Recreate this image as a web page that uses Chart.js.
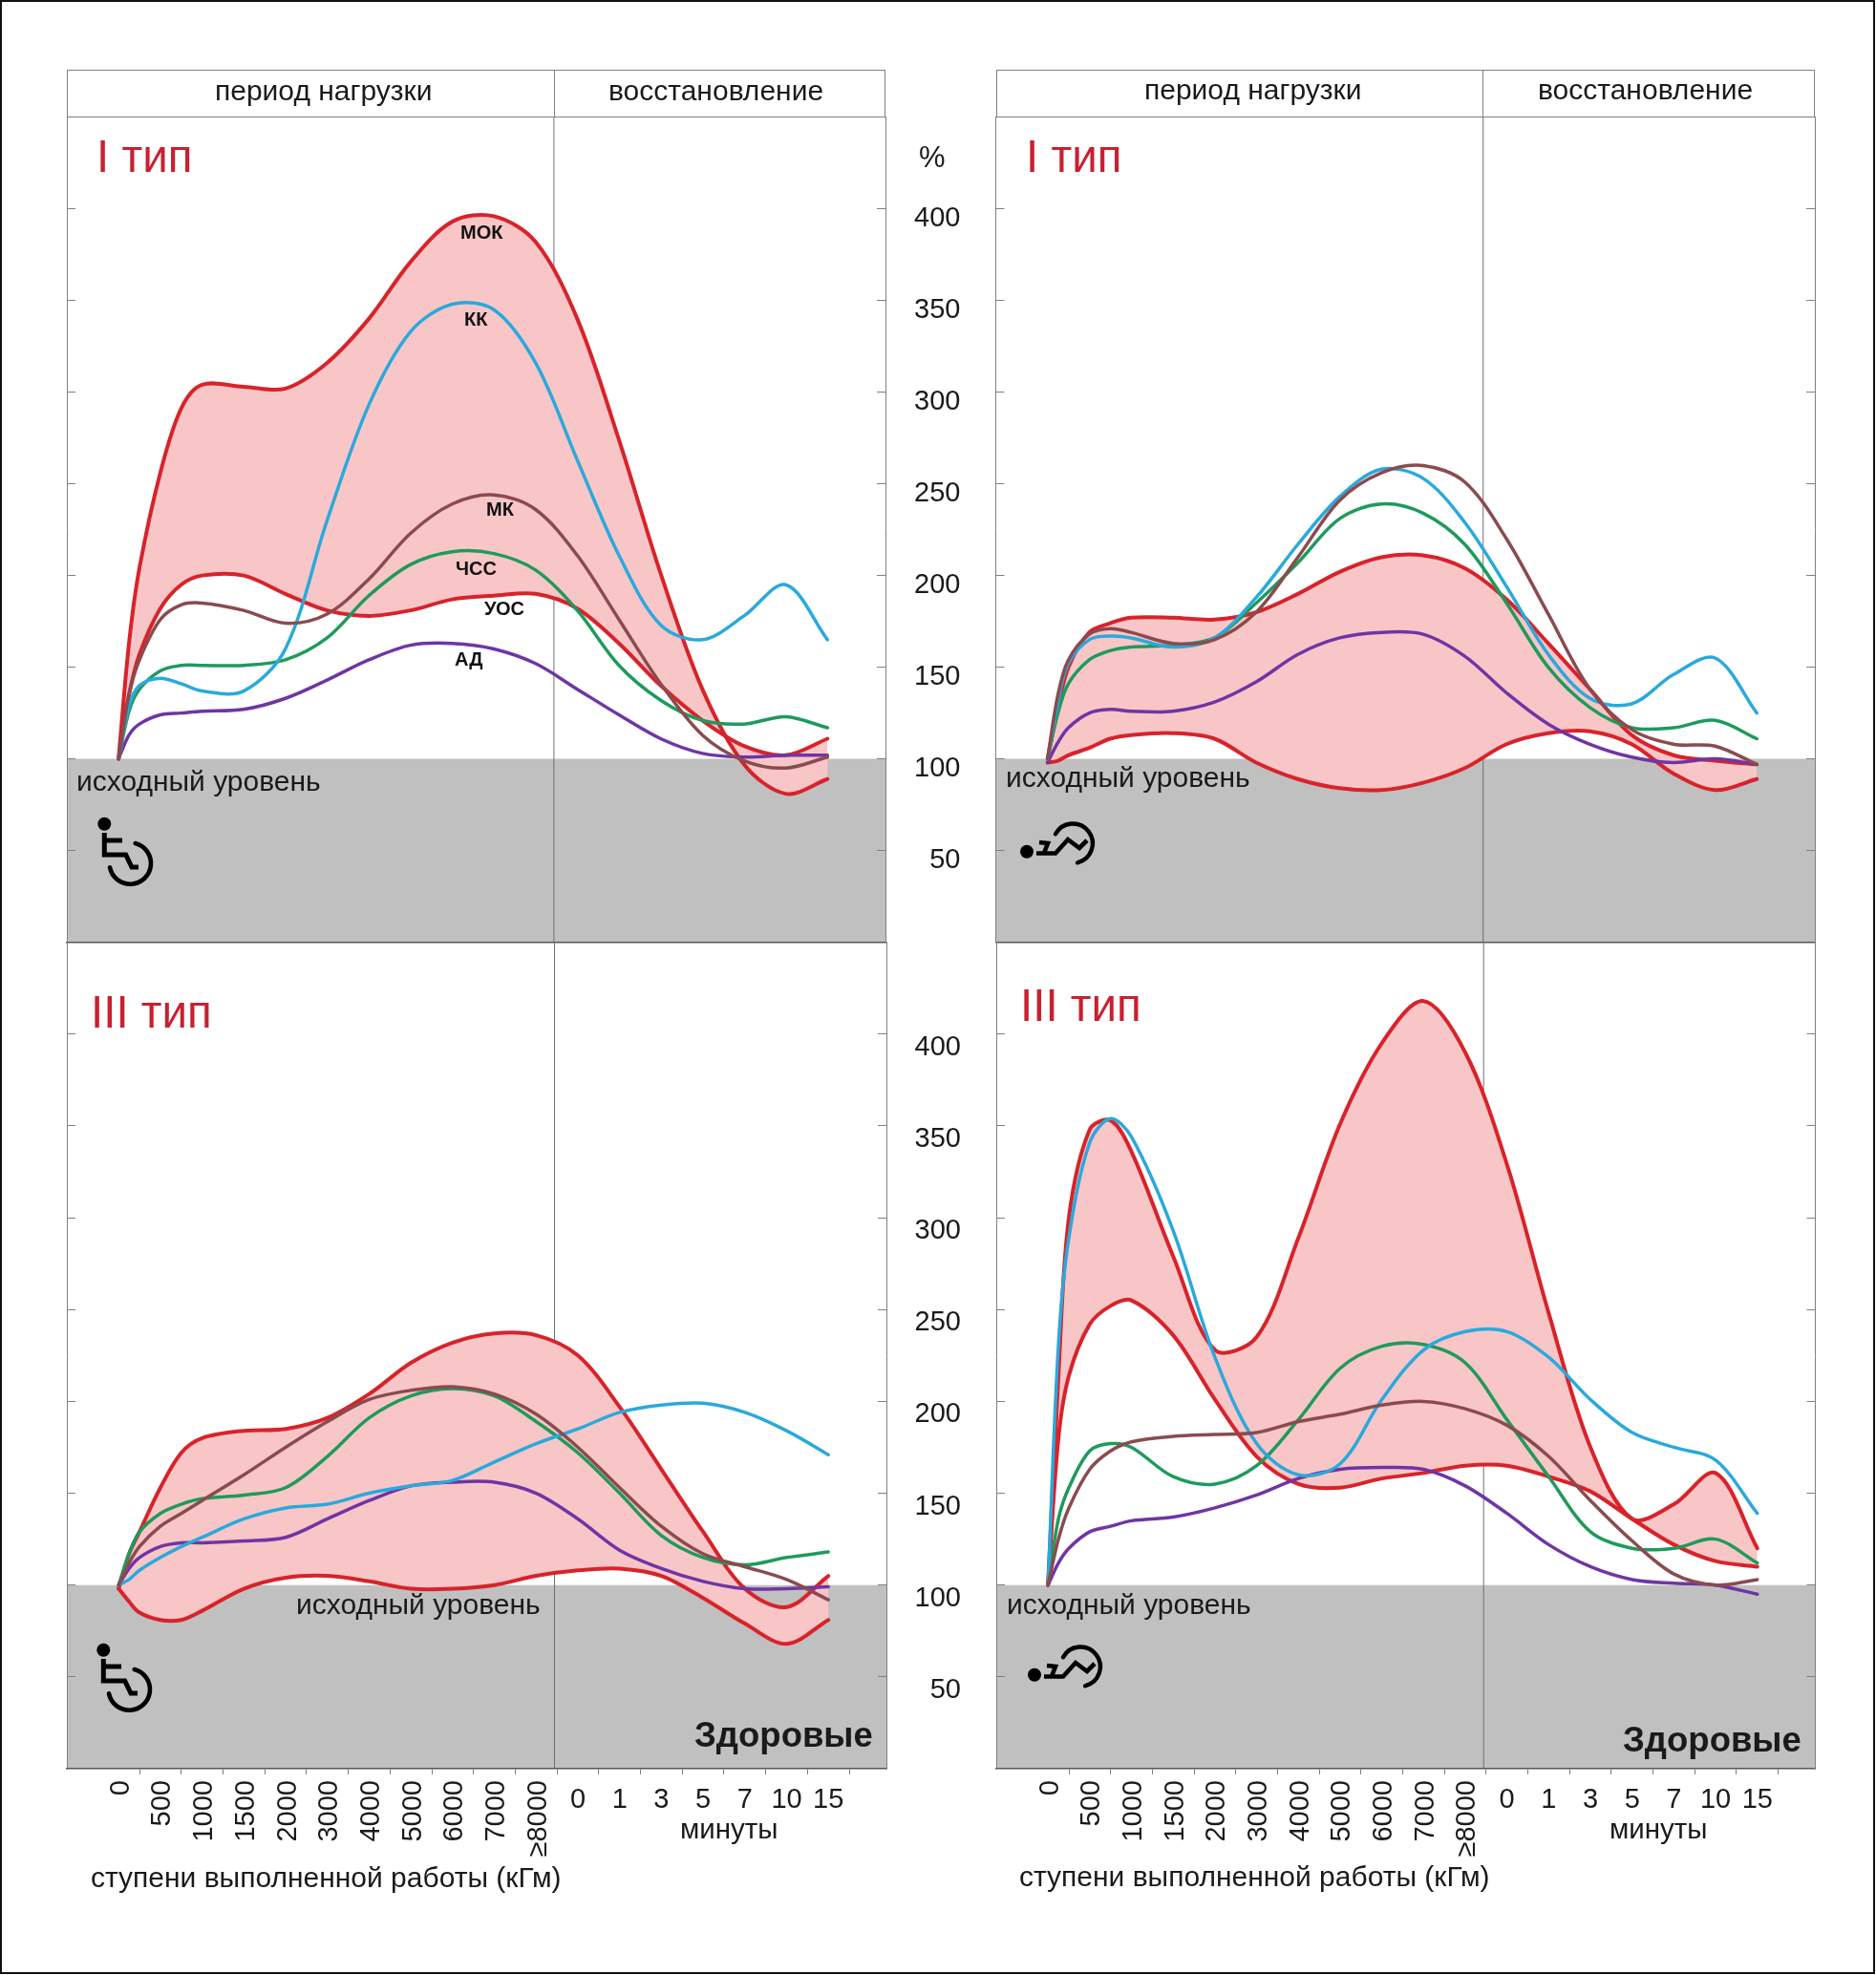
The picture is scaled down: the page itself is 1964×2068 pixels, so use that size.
<!DOCTYPE html>
<html>
<head>
<meta charset="utf-8">
<script src="https://cdn.jsdelivr.net/npm/chart.js@4"></script>
<style>
  html, body { margin: 0; padding: 0; background: #fff; }
  body { position: relative; width: 1964px; height: 2068px; overflow: hidden; font-family: "Liberation Sans", Arial, sans-serif; }
  canvas { position: absolute; }
  .frame { position: absolute; left: 0; top: 0; width: 1959px; height: 2063px; border: 2px solid #111; }
  .txt { position: absolute; white-space: nowrap; line-height: 1; color: #1a1a1a; }
  .head { position: absolute; box-sizing: border-box; border: 1px solid #808080; border-bottom-width: 1px; }
  .head i { position: absolute; top: 0; bottom: 0; width: 1px; background: #808080; }
  svg { position: absolute; overflow: visible; }
</style>
</head>
<body>
<div class="frame"></div>
<script>
// x axis
const workLabels = ["0", "500", "1000", "1500", "2000", "3000", "4000", "5000", "6000", "7000", "≥8000"];
const minuteLabels = ["0", "1", "3", "5", "7", "10", "15"];
const yLabels = [50, 100, 150, 200, 250, 300, 350, 400];
// step index where the curves were read (0 = "0", 10 = "≥8000", 11..17 = minutes)
const stepPos = [0, 0.25, 0.5, 1, 1.5, 2, 3, 4, 5, 6, 7, 8, 9, 10, 11, 12, 13, 14, 15, 16, 17];

// I type, left
const tlUpper = [100, 163, 204, 256, 291, 304, 303, 302, 316, 340, 371, 393, 396, 382, 340, 274, 201, 138, 97, 81, 89];
const tlLower = [100, 135, 157, 182, 195, 200, 200, 190, 181, 178, 181, 187, 189, 190, 182, 163, 140, 121, 107, 102, 111];
const tlKk = [100, 129, 140, 144, 141, 137, 137, 160, 230, 293, 333, 348, 345, 316, 263, 211, 173, 165, 178, 195, 165];
const tlMk = [100, 135, 154, 176, 184, 185, 181, 174, 179, 198, 223, 239, 244, 236, 211, 176, 141, 113, 99, 95, 101];
const tlHr = [100, 126, 138, 148, 151, 151, 151, 154, 166, 189, 206, 213, 212, 203, 181, 151, 132, 121, 119, 123, 117];
const tlBp = [100, 113, 119, 124, 125, 126, 127, 133, 143, 154, 162, 163, 160, 152, 138, 124, 111, 103, 101, 102, 102];

// I type, right
const trUpper = [100, 128, 150, 169, 174, 177, 177, 176, 180, 190, 202, 210, 211, 204, 187, 163, 138, 113, 102, 99, 97];
const trLower = [98, 99, 102, 106, 111, 113, 114, 111, 98, 89, 84, 83, 87, 95, 108, 114, 115, 108, 92, 83, 89];
const trKk = [100, 131, 152, 165, 167, 166, 161, 166, 188, 217, 243, 258, 253, 229, 194, 157, 133, 130, 146, 155, 125];
const trMk = [100, 135, 154, 168, 171, 169, 163, 165, 180, 210, 241, 256, 260, 251, 220, 179, 138, 116, 108, 107, 97];
const trHr = [100, 125, 141, 154, 159, 161, 162, 166, 185, 207, 231, 239, 234, 217, 185, 150, 128, 117, 117, 121, 111];
const trBp = [98, 109, 117, 125, 127, 126, 126, 131, 142, 157, 166, 169, 168, 156, 136, 119, 108, 101, 98, 100, 97];

// III type, left
const blUpper = [98, 117, 129, 153, 172, 180, 184, 185, 191, 204, 221, 232, 237, 236, 225, 197, 163, 129, 98, 88, 105];
const blLower = [98, 91, 85, 81, 81, 86, 98, 104, 105, 102, 98, 98, 100, 105, 108, 109, 105, 93, 79, 68, 81];
const blKk = [100, 103, 108, 115, 121, 126, 136, 142, 144, 150, 154, 157, 167, 177, 185, 194, 198, 199, 194, 184, 171];
const blMk = [100, 112, 121, 132, 139, 146, 160, 175, 189, 201, 206, 208, 204, 193, 175, 153, 132, 117, 110, 103, 92];
const blHr = [100, 117, 129, 139, 144, 147, 149, 153, 170, 191, 203, 207, 203, 189, 172, 150, 127, 115, 111, 115, 118];
const blBp = [100, 109, 115, 121, 123, 123, 124, 126, 136, 146, 154, 156, 156, 150, 136, 119, 109, 102, 98, 98, 99];

// III type, right
const brUpper = [100, 214, 300, 348, 353, 336, 279, 228, 235, 289, 351, 395, 418, 390, 329, 248, 175, 136, 144, 161, 120];
const brLower = [100, 180, 214, 242, 252, 255, 236, 201, 170, 155, 153, 158, 161, 165, 165, 159, 151, 136, 122, 113, 110];
const brKk = [100, 231, 289, 341, 354, 344, 293, 224, 177, 160, 166, 201, 228, 238, 238, 224, 201, 183, 175, 168, 139];
const brMk = [100, 125, 142, 163, 173, 178, 181, 182, 183, 189, 193, 198, 200, 196, 187, 170, 146, 124, 106, 100, 103];
const brHr = [100, 136, 153, 173, 177, 175, 159, 155, 165, 190, 218, 230, 231, 221, 190, 159, 129, 120, 120, 125, 112];
const brBp = [100, 112, 120, 129, 132, 135, 137, 142, 149, 158, 163, 164, 163, 154, 139, 122, 110, 103, 101, 100, 95];

const RED = "#d8232a", BLUE = "#2aa9dc", BROWN = "#8a4b4f", GREEN = "#1f9a5c", PURPLE = "#6f35a5";
const PINK = "#f9c6c8", GREY = "#c0c0c0", AXIS = "#808080";
const FONT = "'Liberation Sans', Arial, sans-serif";

Chart.defaults.font.family = FONT;
Chart.defaults.animation = false;

function toPoints(values) {
  return values.map((v, i) => ({ x: stepPos[i], y: v }));
}

function curve(values, color, order, extra) {
  return Object.assign({
    data: toPoints(values),
    borderColor: color,
    borderWidth: 3.5,
    borderCapStyle: "round",
    pointRadius: 0,
    tension: 0.33,
    fill: false,
    order: order,
  }, extra || {});
}

function makePanel(box, area, xMin, xMax, s, showYLabels, showXLabels, yLabelShift) {
  const canvas = document.createElement("canvas");
  canvas.width = box.w;
  canvas.height = box.h;
  canvas.style.left = box.x + "px";
  canvas.style.top = box.y + "px";
  document.body.appendChild(canvas);

  const bottomRoom = box.y + box.h - area.bottom;
  const leftRoom = area.left - box.x;
  const rightRoom = box.x + box.w - area.right;
  const lastX = showXLabels ? "xMinutes" : "x";

  const fitX = (scale) => {
    scale.height = scale.id === lastX ? bottomRoom : 0;
    scale.paddingLeft = 0;
    scale.paddingRight = 0;
  };
  const fitY = (scale, room) => {
    scale.width = room;
    scale.paddingTop = 0;
    scale.paddingBottom = 0;
  };

  const scales = {
    x: {
      type: "linear", min: xMin, max: xMax, position: "bottom",
      afterBuildTicks: (scale) => {
        const marks = [];
        if (showXLabels) for (let i = 0; i < 18; i++) marks.push({ value: i + 0.5 });
        scale.ticks = marks;
      },
      afterFit: fitX,
      grid: { drawOnChartArea: false, drawTicks: showXLabels, tickLength: 6, color: AXIS, z: 1 },
      border: { color: "#555", width: 1.5, z: 1 },
      ticks: { display: false, autoSkip: false },
    },
    y: {
      min: 0, max: 450, position: "left",
      afterBuildTicks: (scale) => { scale.ticks = yLabels.map((v) => ({ value: v })); },
      afterFit: (scale) => fitY(scale, leftRoom),
      grid: { drawOnChartArea: false, tickLength: -9, color: AXIS, z: 1 },
      border: { color: AXIS, width: 1, z: 1 },
      ticks: { display: showYLabels, padding: 46, labelOffset: yLabelShift, color: "#1a1a1a", font: { size: 29 } },
    },
    yRight: {
      min: 0, max: 450, position: "right",
      afterBuildTicks: (scale) => { scale.ticks = yLabels.map((v) => ({ value: v })); },
      afterFit: (scale) => fitY(scale, rightRoom),
      grid: { drawOnChartArea: false, tickLength: -9, color: AXIS, z: 1 },
      border: { color: AXIS, width: 1, z: 1 },
      ticks: { display: false },
    },
  };

  if (showXLabels) {
    scales.xWork = {
      type: "linear", min: xMin, max: xMax, position: "bottom",
      afterBuildTicks: (scale) => { scale.ticks = workLabels.map((_, i) => ({ value: i })); },
      afterFit: fitX,
      grid: { display: false, drawTicks: false },
      border: { display: false },
      ticks: {
        autoSkip: false, minRotation: 90, maxRotation: 90, padding: 12, labelOffset: 2.5, color: "#1a1a1a", font: { size: 29 },
        callback: (v) => workLabels[v],
      },
    };
    scales.xMinutes = {
      type: "linear", min: xMin, max: xMax, position: "bottom",
      afterBuildTicks: (scale) => { scale.ticks = minuteLabels.map((_, i) => ({ value: i + 11 })); },
      afterFit: fitX,
      grid: { display: false, drawTicks: false },
      border: { display: false },
      ticks: {
        autoSkip: false, maxRotation: 0, padding: 16, color: "#1a1a1a", font: { size: 29 },
        callback: (v) => minuteLabels[v - 11],
      },
    };
  }

  return new Chart(canvas, {
    type: "line",
    data: {
      datasets: [
        // grey zone under the baseline level
        { data: [{ x: xMin, y: 100 }, { x: xMax, y: 100 }], borderWidth: 0, pointRadius: 0, backgroundColor: GREY, fill: { value: 0 }, order: 20 },
        // load / recovery divider
        { data: [{ x: 10.44, y: 0 }, { x: 10.44, y: 450 }], borderColor: "#707070", borderWidth: 1, pointRadius: 0, fill: false, order: 19 },
        curve(s.upper, RED, 6, { fill: { target: 3 }, backgroundColor: PINK, borderWidth: 4 }),
        curve(s.lower, RED, 5, { borderWidth: 4 }),
        curve(s.bp, PURPLE, 4),
        curve(s.hr, GREEN, 3),
        curve(s.mk, BROWN, 1),
        curve(s.kk, BLUE, 2),
      ],
    },
    options: {
      responsive: false,
      layout: { padding: { top: area.top - box.y, left: 0, right: 0, bottom: 0 } },
      plugins: { legend: { display: false }, tooltip: { enabled: false } },
      scales: scales,
    },
    plugins: [{
      // tick labels get clipped to the scale box, so let the zero-height one reach the canvas bottom
      id: "labelRoom",
      afterLayout: (chart) => {
        if (chart.scales.xWork) chart.scales.xWork.bottom = chart.height;
      },
    }],
  });
}

const xFrom = -1.24, xTo = 18.39;

makePanel({ x: 0, y: 0, w: 960, h: 996 }, { left: 70, right: 927, top: 122.7, bottom: 986.6 }, xFrom, xTo,
  { upper: tlUpper, lower: tlLower, kk: tlKk, mk: tlMk, hr: tlHr, bp: tlBp }, false, false, 10);
makePanel({ x: 935, y: 0, w: 1000, h: 996 }, { left: 1042.5, right: 1900, top: 122.7, bottom: 986.6 }, xFrom, xTo,
  { upper: trUpper, lower: trLower, kk: trKk, mk: trMk, hr: trHr, bp: trBp }, true, false, 10);
makePanel({ x: 0, y: 960, w: 960, h: 1100 }, { left: 70, right: 928, top: 986.6, bottom: 1852 }, xFrom, xTo,
  { upper: blUpper, lower: blLower, kk: blKk, mk: blMk, hr: blHr, bp: blBp }, false, true, 14);
makePanel({ x: 935, y: 960, w: 1000, h: 1100 }, { left: 1043, right: 1900.5, top: 986.6, bottom: 1852 }, xFrom, xTo,
  { upper: brUpper, lower: brLower, kk: brKk, mk: brMk, hr: brHr, bp: brBp }, true, true, 14);

// text around the plots
function addText(text, x, baseline, size, opts) {
  const o = opts || {};
  const el = document.createElement("div");
  el.className = "txt";
  el.textContent = text;
  el.style.fontSize = size + "px";
  el.style.top = (baseline - size * 0.8465) + "px";
  el.style.left = x + "px";
  if (o.color) el.style.color = o.color;
  if (o.bold) el.style.fontWeight = "bold";
  document.body.appendChild(el);
}

function addHeader(left, right, split) {
  const h = document.createElement("div");
  h.className = "head";
  h.style.left = left + "px";
  h.style.top = "73px";
  h.style.width = (right - left) + "px";
  h.style.height = "50px";
  const bar = document.createElement("i");
  bar.style.left = (split - left) + "px";
  h.appendChild(bar);
  document.body.appendChild(h);
}

addHeader(70, 927, 578.5);
addHeader(1042.5, 1900, 1551);

const TITLE_RED = "#c9202f";
addText("период нагрузки", 225, 105, 30);
addText("восстановление", 637, 105, 30);
addText("период нагрузки", 1198, 104, 30);
addText("восстановление", 1610, 104, 30);
addText("I тип", 101, 180, 47.5, { color: TITLE_RED });
addText("I тип", 1074, 180, 47.5, { color: TITLE_RED });
addText("III тип", 95, 1076, 47.5, { color: TITLE_RED });
addText("III тип", 1068, 1069, 47.5, { color: TITLE_RED });
addText("%", 962, 175, 31);
addText("исходный уровень", 80, 828, 30);
addText("исходный уровень", 1053, 824, 30);
addText("исходный уровень", 310, 1690, 30);
addText("исходный уровень", 1054, 1690, 30);
addText("Здоровые", 727, 1830, 36.5, { bold: true });
addText("Здоровые", 1699, 1835, 36.5, { bold: true });
addText("минуты", 712, 1925, 29.5);
addText("минуты", 1685, 1925, 29.5);
addText("ступени выполненной работы (кГм)", 95, 1976, 30);
addText("ступени выполненной работы (кГм)", 1067, 1975, 30);

const curveNotes = [["МОК", 482, 250], ["КК", 486, 341], ["МК", 509, 540], ["ЧСС", 477, 602], ["УОС", 507, 644], ["АД", 476, 697]];
curveNotes.forEach((n) => addText(n[0], n[1], n[2], 20, { bold: true, color: "#111" }));

// wheelchair and lying figure icons
function wheelchair(x, y) {
  const svg = `<svg style="left:${x}px;top:${y}px" width="100" height="100" viewBox="0 0 100 100">
    <circle cx="39.3" cy="82.7" r="7" fill="#000"/>
    <path d="M39.3 92 V115 H61.7 L68 128 H75 M39.3 100 H58" fill="none" stroke="#000" stroke-width="5"/>
    <path d="M71.7 103 A21.7 21.7 0 1 1 45 128.3" fill="none" stroke="#000" stroke-width="4.6" stroke-linecap="round"/>
  </svg>`;
  document.body.insertAdjacentHTML("beforeend", svg);
}

function lyingFigure(x, y) {
  const svg = `<svg style="left:${x}px;top:${y}px" width="100" height="70" viewBox="0 0 100 70">
    <circle cx="15" cy="41.7" r="7" fill="#000"/>
    <path d="M25 43.5 H45 L58 29 L70 38 L78 30 M28 32 L37 33 L33 43" fill="none" stroke="#000" stroke-width="4.6"/>
    <path d="M45 23.3 A20.7 20.7 0 1 1 68 53.3" fill="none" stroke="#000" stroke-width="4.4" stroke-linecap="round"/>
  </svg>`;
  document.body.insertAdjacentHTML("beforeend", svg);
}

wheelchair(70, 780);
wheelchair(69.4, 1645);
lyingFigure(1060, 850);
lyingFigure(1068, 1711.5);
</script>
</body>
</html>
